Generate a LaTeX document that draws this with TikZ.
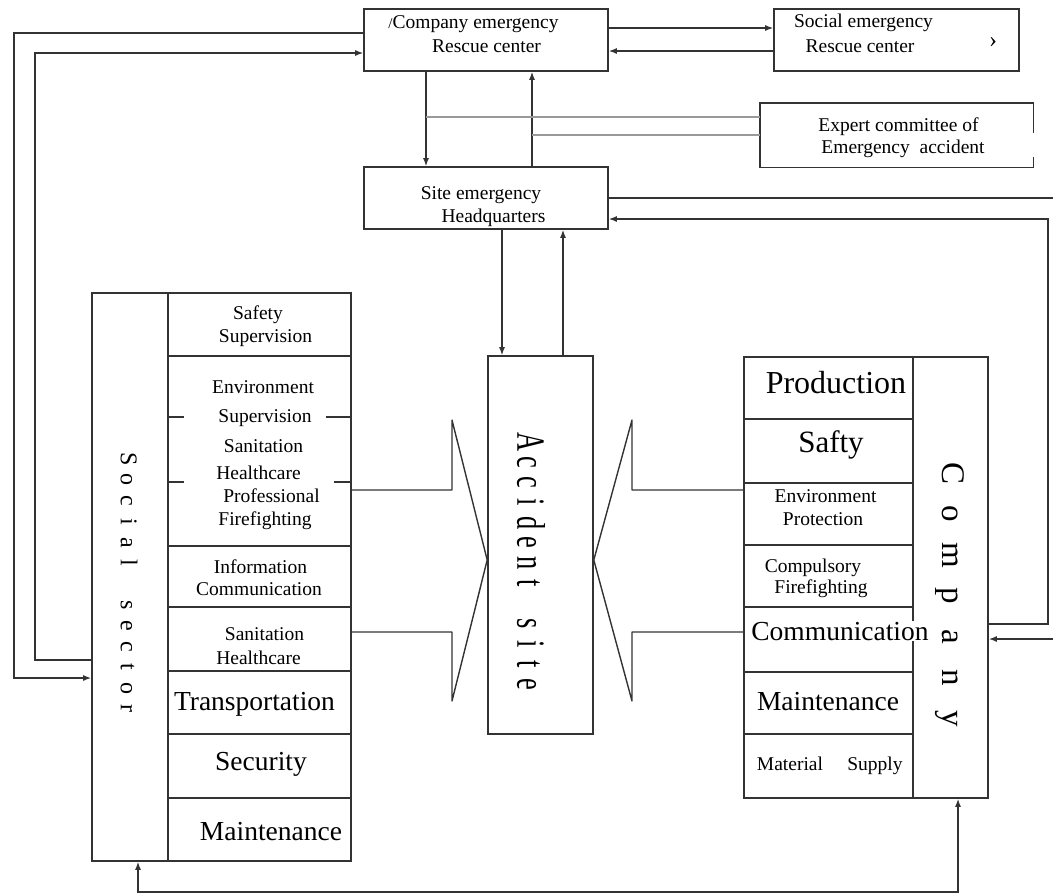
\documentclass[tikz,border=0pt]{standalone}
\usepackage{fontspec}
\usepackage{graphicx}
\setmainfont{Liberation Serif}
\usetikzlibrary{arrows.meta}
\makeatletter
% set each letter of #2 in a box of width #1 (~ stands for a space)
\newcommand\spreadtext[2]{\@tfor\spr@tok:=#2\do{\makebox[#1]{\spr@tok}}}
\makeatother
\tikzset{
  frame/.style={draw=black!80, line width=1.6pt, inner sep=0pt},
  wire/.style={draw=black!80, line width=1.4pt},
  arr/.style={wire, -{Latex[length=8pt,width=6pt]}},
  barr/.style={wire, {Latex[length=8pt,width=6pt]}-{Latex[length=8pt,width=6pt]}},
  grayline/.style={draw=black!40, line width=1.2pt},
  tsm/.style={font=\fontsize{19.5}{23}\selectfont, inner sep=0pt, anchor=base},
  tlg/.style={font=\fontsize{27.5}{32}\selectfont, inner sep=0pt, anchor=base},
  tvert/.style={rotate=-90, inner sep=0pt},
}
\begin{document}
\begin{tikzpicture}[x=1pt,y=-1pt]
\clip (0,0) rectangle (1053,895);

% ---- command level boxes ----
\node[frame, minimum width=244, minimum height=62] (crc) at (486,40) {};
\node[frame, minimum width=245, minimum height=62] (src) at (896.5,40) {};
\node[inner sep=0pt, minimum width=273, minimum height=64] (ex) at (896.5,135) {};
\draw[wire] ([yshift=-30pt]ex.north east) -- (ex.north east) -- (ex.north west)
  -- (ex.south west) -- (ex.south east) -- ([yshift=10pt]ex.south east);
\node[frame, minimum width=244, minimum height=62] (hq) at (486,198) {};

\node[tsm] (crct1) at (473.5,28) {{\fontsize{15}{15}\selectfont/}Company emergency};
\node[tsm] (crct2) at (486.5,52) {Rescue center};
\node[tsm] (srct1) at (863.5,27) {Social emergency};
\node[tsm] (srct2) at (860,52) {Rescue center};
\node[tsm, font=\fontsize{24}{24}\selectfont] (srcmark) at (993,47) {\char"203A};
\node[tsm] (ext1) at (898.5,131) {Expert committee of};
\node[tsm] (ext2) at (903,153) {Emergency\ \ accident};
\node[tsm] (hqt1) at (481,199) {Site emergency};
\node[tsm] (hqt2) at (493.5,222) {Headquarters};

% ---- accident site ----
\node[frame, minimum width=105, minimum height=378] (acc) at (540.5,545) {};
\node[tvert, font=\fontsize{40}{40}\selectfont] (acclabel) at (531,563)
  {\scalebox{0.66}[1]{\spreadtext{30.6pt}{Accident~site}}};

% ---- social sector ----
\node[frame, minimum width=259, minimum height=568] (ss) at (221.5,577) {};
\draw[wire] (168,0 |- ss.north) -- (168,0 |- ss.south);
\node[tvert, font=\fontsize{24}{24}\selectfont] (sslabel) at (129,584)
  {\spreadtext{20.8pt}{Social~sector}};
\node[frame, minimum width=183, minimum height=63] (s1) at (259.5,324.5) {};
\node[frame, minimum width=183, minimum height=190] (s2) at (259.5,451) {};
\node[frame, minimum width=183, minimum height=61] (s3) at (259.5,576.5) {};
\node[frame, minimum width=183, minimum height=64] (s4) at (259.5,639) {};
\node[frame, minimum width=183, minimum height=63] (s5) at (259.5,702.5) {};
\node[frame, minimum width=183, minimum height=64] (s6) at (259.5,766) {};
\node[frame, minimum width=183, minimum height=63] (s7) at (259.5,829.5) {};
% partial separators inside the large cell
\draw[wire] (s2.west |- 0,417) -- ++(17,0);
\draw[wire] (s2.east |- 0,417) -- ++(-26,0);
\draw[wire] (s2.west |- 0,482) -- ++(17,0);
\draw[wire] (s2.east |- 0,482) -- ++(-18,0);

\node[tsm] (s1a) at (258,319) {Safety};
\node[tsm] (s1b) at (265.5,342) {Supervision};
\node[tsm] (s2a) at (263,393) {Environment};
\node[tsm] (s2b) at (265,422) {Supervision};
\node[tsm] (s2c) at (263.5,452) {Sanitation};
\node[tsm] (s2d) at (258.5,479) {Healthcare};
\node[tsm] (s2e) at (271.5,502) {Professional};
\node[tsm] (s2f) at (265,525) {Firefighting};
\node[tsm] (s3a) at (260.5,573) {Information};
\node[tsm] (s3b) at (259,595) {Communication};
\node[tsm] (s4a) at (264.5,640) {Sanitation};
\node[tsm] (s4b) at (258.5,664) {Healthcare};
\node[tlg] (s5a) at (254.5,710) {Transportation};
\node[tlg] (s6a) at (261,770) {Security};
\node[tlg] (s7a) at (271,840) {Maintenance};

% ---- company ----
\node[frame, minimum width=244, minimum height=441] (co) at (866,577.5) {};
\draw[wire] (913,0 |- co.north) -- (913,0 |- co.south);
\node[frame, minimum width=169, minimum height=62] (c1) at (828.5,388) {};
\node[frame, minimum width=169, minimum height=64] (c2) at (828.5,451) {};
\node[frame, minimum width=169, minimum height=62] (c3) at (828.5,514) {};
\node[frame, minimum width=169, minimum height=62] (c4) at (828.5,576) {};
\node[frame, minimum width=169, minimum height=65] (c5) at (828.5,639.5) {};
\node[frame, minimum width=169, minimum height=62] (c6) at (828.5,703) {};
\node[frame, minimum width=169, minimum height=64] (c7) at (828.5,766) {};
\node[tvert, font=\fontsize{33}{33}\selectfont] (colabel) at (950,596)
  {\spreadtext{41pt}{Company}};

\node[tlg, font=\fontsize{32}{36}\selectfont] (c1a) at (836,393) {Production};
\node[tlg, font=\fontsize{31}{36}\selectfont] (c2a) at (831,452) {Safty};
\node[tsm] (c3a) at (825.5,502) {Environment};
\node[tsm] (c3b) at (823,525) {Protection};
\node[tsm] (c4a) at (813,572) {Compulsory};
\node[tsm] (c4b) at (821,593) {Firefighting};
\node[tlg, fill=white, inner sep=1pt] (c5a) at (840,640) {Communication};
\node[tlg] (c6a) at (828,710) {Maintenance};
\node[tsm] (c7a) at (790,770) {Material};
\node[tsm] (c7b) at (875,770) {Supply};

% ---- connectors at the top ----
\draw[arr] (crc.east |- 0,28) -- (src.west |- 0,28);
\draw[arr] (src.west |- 0,51) -- (crc.east |- 0,51);
\draw[arr] (426,0 |- crc.south) -- (426,0 |- hq.north);
\draw[arr] (532,0 |- hq.north) -- (532,0 |- crc.south);
\draw[grayline] (ex.west |- 0,117) -- (426,117);
\draw[grayline] (ex.west |- 0,135) -- (532,135);
\draw[arr] (502,0 |- hq.south) -- (502,0 |- acc.north);
\draw[arr] (563,0 |- acc.north) -- (563,0 |- hq.south);

% ---- loops on the left ----
\draw[arr] (crc.west |- 0,33) -- (14,33) -- (14,678) -- (ss.west |- 0,678);
\draw[arr] (ss.west |- 0,660) -- (35,660) -- (35,53) -- (crc.west |- 0,53);

% ---- loops on the right ----
\draw[arr] (hq.east |- 0,198) -- (1062,198) -- (1062,639) -- (co.east |- 0,639);
\draw[arr] (co.east |- 0,624) -- (1048,624) -- (1048,219) -- (hq.east |- 0,219);

% ---- bottom link ----
\draw[barr] (co.south -| 958,0) -- (958,892) -- (138,892) -- (ss.south -| 138,0);

% ---- arrow outlines into the accident site ----
\draw[wire, line join=round] (ss.east |- 0,490) -- (452,490) -- (452,420)
  -- (acc.west |- 0,560) -- (452,701) -- (452,632) -- (ss.east |- 0,632);
\draw[wire, line join=round] (co.west |- 0,490) -- (632,490) -- (632,420)
  -- (acc.east |- 0,560) -- (632,701) -- (632,632) -- (co.west |- 0,632);
\end{tikzpicture}
\end{document}
